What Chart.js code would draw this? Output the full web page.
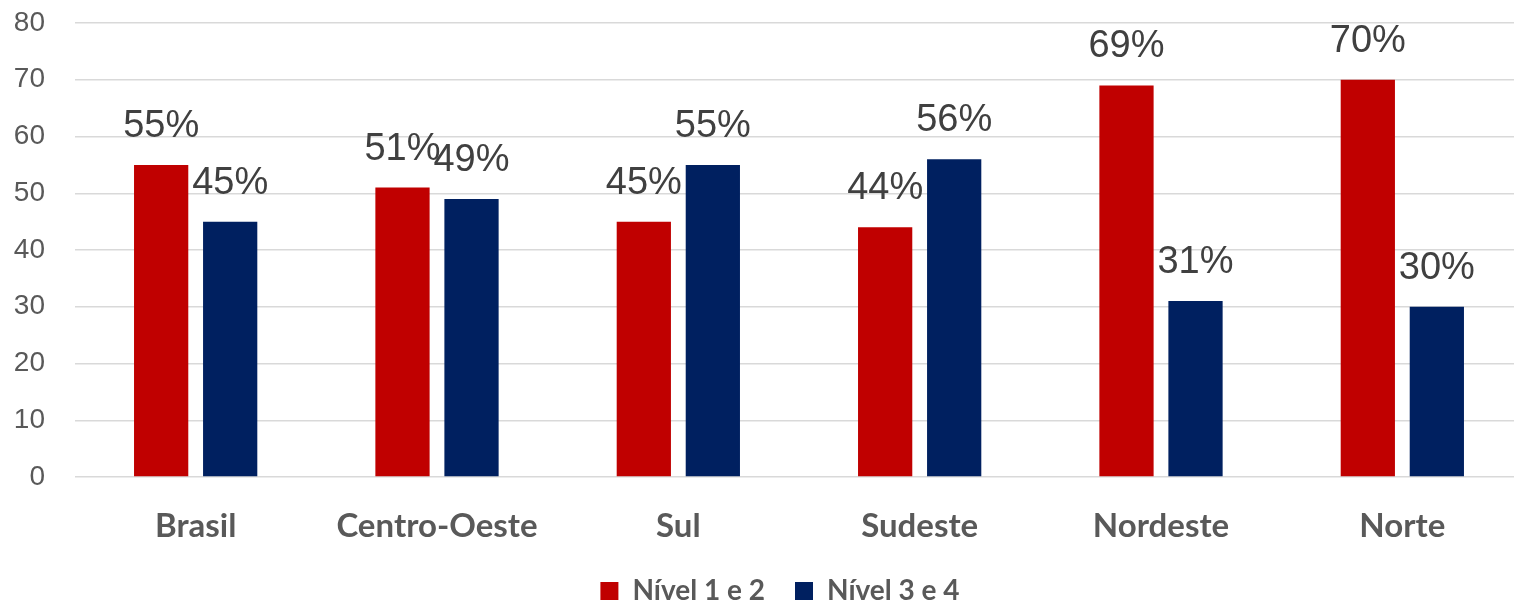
<!DOCTYPE html>
<html>
<head>
<meta charset="utf-8">
<script src="https://cdn.jsdelivr.net/npm/chart.js@4.4.1/dist/chart.umd.min.js"></script>
<style>
  html, body { margin: 0; padding: 0; background: #fff; overflow: hidden; }
  #wrap { width: 1560px; height: 604px; }
</style>
</head>
<body>
<div id="wrap"><canvas id="chart"></canvas></div>
<script>
let regioes = ['Brasil', 'Centro-Oeste', 'Sul', 'Sudeste', 'Nordeste', 'Norte'];
let nivel12 = [55, 51, 45, 44, 69, 70];
let nivel34 = [45, 49, 55, 56, 31, 30];
let yTicks = [0, 10, 20, 30, 40, 50, 60, 70, 80];

// labels "55%" em cima das barras
const rotulos = {
    id: 'rotulos',
    afterDatasetsDraw(chart) {
        let ctx = chart.ctx;
        ctx.save();
        ctx.font = '38px "Liberation Sans", Arial, sans-serif';
        ctx.fillStyle = '#404040';
        ctx.textAlign = 'center';
        ctx.textBaseline = 'alphabetic';
        chart.data.datasets.forEach((ds, i) => {
            chart.getDatasetMeta(i).data.forEach((bar, j) => {
                ctx.fillText(ds.data[j] + '%', bar.x, bar.y - 28);
            });
        });
        ctx.restore();
    }
};

new Chart(document.getElementById('chart'), {
    type: 'bar',
    data: {
        labels: regioes,
        datasets: [
            { label: 'Nível 1 e 2', data: nivel12, backgroundColor: '#C00000' },
            { label: 'Nível 3 e 4', data: nivel34, backgroundColor: '#002060' }
        ]
    },
    options: {
        responsive: true,
        maintainAspectRatio: false,
        animation: false,
        categoryPercentage: 0.572,
        barPercentage: 0.786,
        layout: { padding: { top: 23, left: 0, right: 0, bottom: -11 } },
        plugins: {
            tooltip: { enabled: false },
            legend: {
                position: 'bottom',
                labels: {
                    boxWidth: 18,
                    boxHeight: 18,
                    padding: 30,
                    color: '#595959',
                    font: { family: 'Lato', weight: 'bold', size: 28 }
                }
            }
        },
        scales: {
            x: {
                grid: { display: false },
                border: { display: false },
                ticks: {
                    color: '#595959',
                    padding: 22,
                    font: { family: 'Lato', weight: 'bold', size: 33 }
                },
                afterFit: s => { s.height = 70; }
            },
            y: {
                min: 0,
                max: 80,
                afterBuildTicks: s => { s.ticks = yTicks.map(v => ({ value: v })); },
                grid: { color: '#d9d9d9', lineWidth: 1.5, drawTicks: false },
                border: { display: false },
                ticks: {
                    color: '#595959',
                    padding: 30,
                    font: { family: '"Liberation Sans", Arial, sans-serif', size: 28 }
                },
                afterFit: s => { s.width = 75; s.paddingTop = 0; s.paddingBottom = 0; }
            },
            yr: {
                position: 'right',
                min: 0,
                max: 80,
                grid: { display: false },
                border: { display: false },
                ticks: { display: false },
                afterFit: s => { s.width = 37; }
            }
        }
    },
    plugins: [rotulos]
});
</script>
</body>
</html>
